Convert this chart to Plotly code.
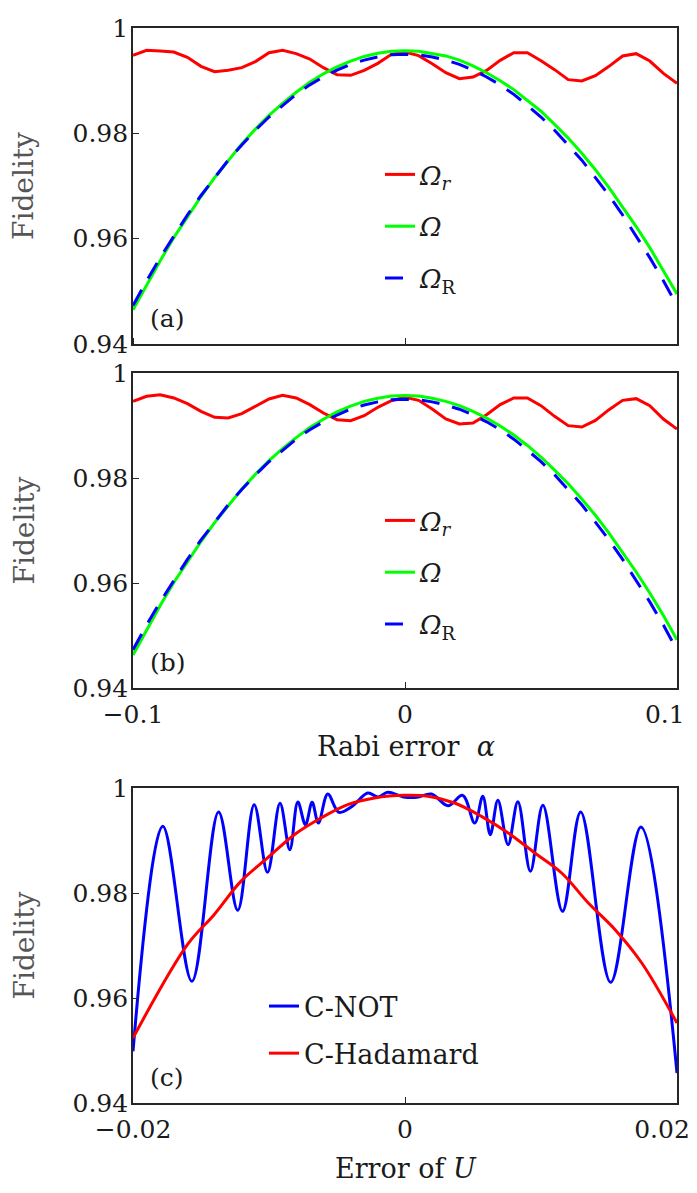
import plotly.graph_objects as go

# ---------------- data ----------------
alpha = [-0.1, -0.095, -0.09, -0.085, -0.08, -0.075, -0.07, -0.065, -0.06, -0.055,
         -0.05, -0.045, -0.04, -0.035, -0.03, -0.025, -0.02, -0.015, -0.01, -0.005,
         0.0, 0.005, 0.01, 0.015, 0.02, 0.025, 0.03, 0.035, 0.04, 0.045,
         0.05, 0.055, 0.06, 0.065, 0.07, 0.075, 0.08, 0.085, 0.09, 0.095, 0.1]

a_omega_r = [0.99481, 0.99576, 0.99563, 0.99544, 0.99443, 0.99272, 0.99171, 0.99196, 0.99247, 0.99362,
             0.99532, 0.99576, 0.99513, 0.99411, 0.99247, 0.99114, 0.99101, 0.99196, 0.99329, 0.99500,
             0.99544, 0.99475, 0.99323, 0.99152, 0.99038, 0.99070, 0.99196, 0.99386, 0.99532, 0.99532,
             0.99380, 0.99209, 0.99019, 0.98994, 0.99095, 0.99272, 0.99468, 0.99513, 0.99373, 0.99139,
             0.98949]
a_omega = [0.9465, 0.9513, 0.9558, 0.9602, 0.9642, 0.9680, 0.9716, 0.9749, 0.9780, 0.9808,
           0.9834, 0.9857, 0.9878, 0.9897, 0.9913, 0.9926, 0.9937, 0.9946, 0.9952, 0.9956,
           0.9957, 0.9956, 0.9952, 0.9947, 0.9939, 0.9928, 0.9915, 0.9900, 0.9883, 0.9863,
           0.9842, 0.9817, 0.9791, 0.9762, 0.9731, 0.9697, 0.9661, 0.9623, 0.9583, 0.9540,
           0.9495]
a_omega_R = [0.9473, 0.9520, 0.9564, 0.9605, 0.9645, 0.9682, 0.9716, 0.9749, 0.9778, 0.9806,
             0.9831, 0.9853, 0.9874, 0.9892, 0.9907, 0.9920, 0.9931, 0.9939, 0.9945, 0.9949,
             0.9950, 0.9949, 0.9945, 0.9939, 0.9931, 0.9920, 0.9907, 0.9892, 0.9874, 0.9853,
             0.9831, 0.9806, 0.9778, 0.9749, 0.9716, 0.9682, 0.9645, 0.9605, 0.9564, 0.9520,
             0.9473]

b_omega_r = [0.99460, 0.99556, 0.99587, 0.99524, 0.99416, 0.99270, 0.99156, 0.99143, 0.99225, 0.99365,
             0.99505, 0.99575, 0.99524, 0.99397, 0.99238, 0.99111, 0.99092, 0.99187, 0.99346, 0.99473,
             0.99537, 0.99479, 0.99314, 0.99124, 0.99029, 0.99048, 0.99206, 0.99397, 0.99524, 0.99524,
             0.99378, 0.99175, 0.98997, 0.98971, 0.99098, 0.99302, 0.99479, 0.99511, 0.99378, 0.99124,
             0.98933]
b_omega = [0.9463, 0.9511, 0.9557, 0.9601, 0.9641, 0.9679, 0.9715, 0.9748, 0.9779, 0.9807,
           0.9833, 0.9856, 0.9877, 0.9896, 0.9912, 0.9926, 0.9937, 0.9946, 0.9952, 0.9956,
           0.9957, 0.9956, 0.9952, 0.9946, 0.9938, 0.9927, 0.9914, 0.9899, 0.9882, 0.9862,
           0.9840, 0.9815, 0.9789, 0.9760, 0.9729, 0.9695, 0.9659, 0.9621, 0.9581, 0.9538,
           0.9492]
b_omega_R = [0.9473, 0.9520, 0.9564, 0.9605, 0.9645, 0.9682, 0.9716, 0.9749, 0.9778, 0.9806,
             0.9831, 0.9853, 0.9874, 0.9892, 0.9907, 0.9920, 0.9931, 0.9939, 0.9945, 0.9949,
             0.9950, 0.9949, 0.9945, 0.9939, 0.9931, 0.9920, 0.9907, 0.9892, 0.9874, 0.9853,
             0.9831, 0.9806, 0.9778, 0.9749, 0.9716, 0.9682, 0.9645, 0.9605, 0.9564, 0.9520,
             0.9472]

# panel (c): C-NOT (read at its turning points) and C-Hadamard
cnot_x = [-0.02, -0.01781, -0.01567, -0.01371, -0.01230, -0.01109, -0.01011, -0.00919, -0.00847,
          -0.00788, -0.00732, -0.00683, -0.00637, -0.00568, -0.00486, -0.00388, -0.00274, -0.00198,
          -0.00126, -0.00011, 0.00087, 0.00195, 0.00316, 0.00424, 0.00513, 0.00572, 0.00627,
          0.00683, 0.00758, 0.00830, 0.00922, 0.01014, 0.01158, 0.01292, 0.01512, 0.01735, 0.02]
cnot_f = [0.94984, 0.99270, 0.96317, 0.99543, 0.97670, 0.99683, 0.98394, 0.99708, 0.98825,
          0.99733, 0.99302, 0.99727, 0.99333, 0.99886, 0.99537, 0.99651, 0.99905, 0.99829,
          0.99917, 0.99829, 0.99822, 0.99886, 0.99663, 0.99860, 0.99333, 0.99841, 0.99111,
          0.99765, 0.98921, 0.99740, 0.98413, 0.99670, 0.97651, 0.99543, 0.96298, 0.99257, 0.94571]

had_x = [-0.02, -0.016, -0.01404, -0.01207, -0.01011, -0.00814, -0.00618, -0.00421, -0.00224,
         0.0, 0.00169, 0.00365, 0.00562, 0.00759, 0.00955, 0.01152, 0.01348, 0.01545, 0.01741, 0.02]
had_f = [0.95238, 0.97016, 0.97587, 0.98222, 0.98667, 0.99111, 0.99429, 0.99683, 0.99810,
         0.99860, 0.99841, 0.99714, 0.99460, 0.99143, 0.98762, 0.98381, 0.97810, 0.97302, 0.96667, 0.95524]

y_ticks = [0.94, 0.96, 0.98, 1.0]
y_ticktext = ["0.94", "0.96", "0.98", "1"]
ab_ticks = [-0.1, 0.0, 0.1]
ab_label_pos = [-0.1, 0.0, 0.0955]
ab_ticktext = ["\u22120.1", "0", "0.1"]
c_ticks = [-0.02, 0.0, 0.02]
c_label_pos = [-0.02, 0.0, 0.0189]
c_ticktext = ["\u22120.02", "0", "0.02"]

lbl_r = "<i>\u03a9</i><sub><i>r</i></sub>"
lbl_o = "<i>\u03a9</i>"
lbl_R = "<i>\u03a9</i><sub>R</sub>"

# ---------------- layout helpers ----------------
# the page body adds an 8 px offset, so the figure is drawn 8 px smaller and
# positions below are given in window pixels
OFF = 8
W, H = 697 - OFF, 1193 - OFF
FONT = "DejaVu Serif"
def fx(p):
    return (p - OFF) / W
def fy(p):
    return 1 - (p - OFF) / H

RED, GREEN, BLUE = "#ff0000", "#00ff00", "#0000ff"
DASH = "18px,13px"

fig = go.Figure()

def add_ab(xa, ya, leg, r, o, R):
    fig.add_trace(go.Scatter(x=alpha, y=r, mode="lines", name=lbl_r, xaxis=xa, yaxis=ya,
                             legend=leg, legendgroup=leg + "1",
                             line=dict(color=RED, width=3)))
    fig.add_trace(go.Scatter(x=alpha, y=o, mode="lines", name=lbl_o, xaxis=xa, yaxis=ya,
                             legend=leg, legendgroup=leg + "2",
                             line=dict(color=GREEN, width=3)))
    fig.add_trace(go.Scatter(x=alpha, y=R, mode="lines", name=lbl_R, xaxis=xa, yaxis=ya,
                             legend=leg, legendgroup=leg + "3",
                             line=dict(color=BLUE, width=3, dash=DASH)))

add_ab("x", "y", "legend", a_omega_r, a_omega, a_omega_R)
add_ab("x2", "y2", "legend2", b_omega_r, b_omega, b_omega_R)

fig.add_trace(go.Scatter(x=cnot_x, y=cnot_f, mode="lines", name="C-NOT", xaxis="x3", yaxis="y3",
                         legend="legend3", legendgroup="c1",
                         line=dict(color=BLUE, width=3, shape="spline", smoothing=1.0)))
fig.add_trace(go.Scatter(x=had_x, y=had_f, mode="lines", name="C-Hadamard", xaxis="x3", yaxis="y3",
                         legend="legend3", legendgroup="c2",
                         line=dict(color=RED, width=3, shape="spline", smoothing=1.0)))

AX = "#262626"
TXT = "#1a1a1a"
x_dom = [fx(133), fx(677)]
panels = {"a": (28, 344), "b": (373, 688), "c": (788, 1103)}

def xaxis(rng, tv, lp, tt, show, anchor):
    return dict(domain=x_dom, range=rng, anchor=anchor, showline=True, mirror=True,
                linecolor=AX, linewidth=1.6,
                ticks="inside" if show else "", ticklen=0, tickvals=lp, ticktext=tt,
                showticklabels=show,
                minor=dict(tickvals=tv, ticks="inside", ticklen=6, tickwidth=1.2, tickcolor=AX,
                           showgrid=False),
                showgrid=False, zeroline=False, ticklabelstandoff=3, automargin=False,
                ticklabeloverflow="allow",
                tickfont=dict(family=FONT, size=25, color=TXT))

def yaxis(top, bot, anchor):
    return dict(domain=[fy(bot), fy(top)], range=[0.94, 1.0], anchor=anchor, showline=True,
                mirror=True, linecolor=AX, linewidth=1.6, ticks="inside", ticklen=6,
                tickwidth=1.2, tickcolor=AX, tickvals=y_ticks, ticktext=y_ticktext,
                showgrid=False, zeroline=False, ticklabelstandoff=-2, automargin=False,
                ticklabeloverflow="allow",
                tickfont=dict(family=FONT, size=25, color=TXT))

leg_common = dict(bgcolor="rgba(0,0,0,0)", borderwidth=0, xanchor="left", yanchor="top",
                  traceorder="grouped", itemwidth=30)

fig.update_layout(
    width=W, height=H, margin=dict(l=0, r=0, t=0, b=0, autoexpand=False),
    paper_bgcolor="white", plot_bgcolor="white",
    showlegend=True,
    xaxis=xaxis([-0.1, 0.1], ab_ticks, ab_label_pos, ab_ticktext, False, "y"),
    yaxis=yaxis(*panels["a"], "x"),
    xaxis2=xaxis([-0.1, 0.1], ab_ticks, ab_label_pos, ab_ticktext, True, "y2"),
    yaxis2=yaxis(*panels["b"], "x2"),
    xaxis3=xaxis([-0.02, 0.02], c_ticks, c_label_pos, c_ticktext, True, "y3"),
    yaxis3=yaxis(*panels["c"], "x3"),
    legend=dict(x=fx(380), y=fy(151), tracegroupgap=15,
                font=dict(family=FONT, size=26, color=TXT), **leg_common),
    legend2=dict(x=fx(380), y=fy(497), tracegroupgap=15,
                 font=dict(family=FONT, size=26, color=TXT), **leg_common),
    legend3=dict(x=fx(264), y=fy(982), tracegroupgap=9,
                 font=dict(family=FONT, size=27, color=TXT), **leg_common),
)

ann = []
for (top, bot), lab in zip(panels.values(), ["(a)", "(b)", "(c)"]):
    ann.append(dict(text="Fidelity", xref="paper", yref="paper", x=fx(24), y=fy((top + bot) / 2),
                    textangle=-90, showarrow=False, xanchor="center", yanchor="middle",
                    font=dict(family=FONT, size=28, color="#555555")))
    ann.append(dict(text=lab, xref="paper", yref="paper", x=fx(148), y=fy(bot - 26),
                    showarrow=False, xanchor="left", yanchor="middle",
                    font=dict(family=FONT, size=25, color=TXT)))
ann.append(dict(text="Rabi error\u00a0 <i>\u03b1</i>", xref="paper", yref="paper", x=fx(406), y=fy(746),
                showarrow=False, xanchor="center", yanchor="middle",
                font=dict(family=FONT, size=27, color=TXT)))
ann.append(dict(text="Error of <i>U</i>", xref="paper", yref="paper", x=fx(406), y=fy(1168),
                showarrow=False, xanchor="center", yanchor="middle",
                font=dict(family=FONT, size=27, color=TXT)))
fig.update_layout(annotations=ann)

fig.write_html("out.html")
